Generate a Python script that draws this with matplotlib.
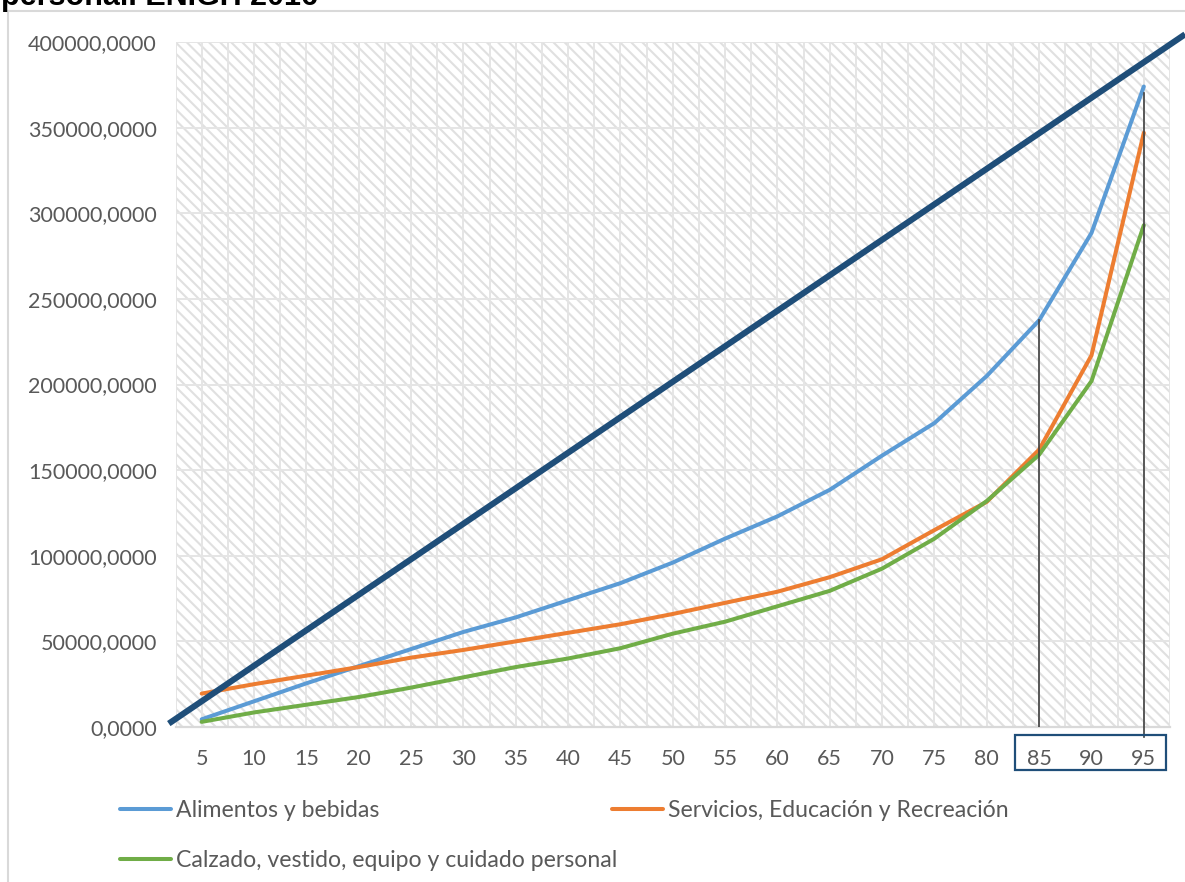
import matplotlib
matplotlib.use("Agg")
import matplotlib.pyplot as plt
from matplotlib.patches import Rectangle
from matplotlib.lines import Line2D
import matplotlib.transforms as mtransforms

# ---- data ----
percentiles = [5, 10, 15, 20, 25, 30, 35, 40, 45, 50, 55, 60, 65, 70, 75, 80, 85, 90, 95]
alimentos = [4500, 15000, 25500, 35500, 45500, 55500, 64000, 74000, 84000, 96000,
             110000, 123000, 138500, 158500, 177500, 205000, 237500, 288500, 374000]
servicios = [19500, 25000, 30000, 35000, 40500, 45000, 50000, 55000, 60000, 66000,
             72500, 79000, 87500, 98000, 115000, 131500, 162000, 217000, 347000]
calzado = [3000, 8500, 13000, 17500, 23000, 29000, 35000, 40000, 46000, 54500,
           61500, 70500, 79500, 92500, 110000, 132000, 159000, 202000, 293000]
equality_x = [2.1, 98.7]
equality_y = [3000, 403500]
marker_x = [85, 95]
marker_top = [237500, 370000]
y_ticks = [0, 50000, 100000, 150000, 200000, 250000, 300000, 350000, 400000]
labels = ["Alimentos y bebidas", "Servicios, Educación y Recreación",
          "Calzado, vestido, equipo y cuidado personal"]
title_text = "personal. ENIGH 2016"

W, H = 1185, 882
plt.rcParams["hatch.linewidth"] = 1.5
fig = plt.figure(figsize=(W / 100, H / 100), dpi=100)
fig.patch.set_facecolor("white")
FONT = ["Lato", "DejaVu Sans"]
TXT = "#595959"
FS = 15.5
LFS = 16.6

left, right, top, bottom = 175.5, 1170, 42, 727
ax = fig.add_axes([left / W, 1 - bottom / H, (right - left) / W, (bottom - top) / H])
ax.set_facecolor("white")
ax.set_xlim(2.5, 97.5)
ax.set_ylim(0, 400000)

# hatched background
bg = Rectangle((0, 0), 1, 1, transform=ax.transAxes, facecolor="white",
               edgecolor="#E0E0E0", hatch="\\\\\\", lw=0, zorder=0)
ax.add_patch(bg)

# grid
for gx in [2.5 + 2.5 * i for i in range(39)]:
    ax.axvline(gx, color="#E5E5E5", lw=1.4, zorder=1)
for gy in y_ticks[1:]:
    ax.axhline(gy, color="#E5E5E5", lw=1.4, zorder=1)

for s in ["top", "right", "left"]:
    ax.spines[s].set_visible(False)
ax.spines["bottom"].set_color("#D9D9D9")
ax.spines["bottom"].set_linewidth(1.6)

ax.set_xticks(percentiles)
ax.set_xticklabels([str(p) for p in percentiles], fontsize=FS, color=TXT, family=FONT)
ax.set_yticks(y_ticks)
ax.set_yticklabels([f"{v},0000" for v in y_ticks], fontsize=FS, color=TXT, family=FONT)
ax.tick_params(axis="both", length=0)
ax.tick_params(axis="x", pad=16)
ax.tick_params(axis="y", pad=13.5)

# series
lw = 2.9
l1, = ax.plot(percentiles, alimentos, color="#5B9BD5", lw=lw, zorder=4, label=labels[0],
              solid_capstyle="round")
l2, = ax.plot(percentiles, servicios, color="#ED7D31", lw=lw, zorder=4, label=labels[1],
              solid_capstyle="round")
l3, = ax.plot(percentiles, calzado, color="#70AD47", lw=lw, zorder=4, label=labels[2],
              solid_capstyle="round")

# equality line
ax.plot(equality_x, equality_y, color="#1F4E79", lw=4.4, zorder=5, clip_on=False)

# vertical marker lines
ax.plot([marker_x[0], marker_x[0]], [0, marker_top[0]], color="#404040", lw=1.2, zorder=6)
ax.plot([marker_x[1], marker_x[1]], [-6000, marker_top[1]], color="#404040", lw=1.2,
        zorder=6, clip_on=False)

# box around the last labels
trans = mtransforms.blended_transform_factory(ax.transData, fig.transFigure)
box = Rectangle((82.7, 1 - 770 / H), 97.1 - 82.7, (770 - 735) / H, transform=trans,
                fill=False, edgecolor="#1F4E79", lw=1.6, clip_on=False, zorder=7)
fig.add_artist(box)

# legend (Excel-style grid: two slots in first row, one in second)
common = dict(loc="upper left", bbox_transform=fig.transFigure, frameon=False,
              borderpad=0, borderaxespad=0, handlelength=2.2, handletextpad=0.25,
              labelspacing=1.25, prop={"family": FONT, "size": LFS})
leg1 = fig.legend(handles=[l1, l3], labels=[labels[0], labels[2]],
                  bbox_to_anchor=(120 / W, 1 - 800 / H), **common)
leg2 = fig.legend(handles=[l2], labels=[labels[1]],
                  bbox_to_anchor=(612 / W, 1 - 800 / H), **common)
for lg in (leg1, leg2):
    for t in lg.get_texts():
        t.set_color(TXT)

# frame of the chart area
fig.add_artist(Line2D([8 / W, 1], [1 - 11 / H, 1 - 11 / H], color="#D9D9D9", lw=1.5,
                      transform=fig.transFigure))
fig.add_artist(Line2D([8 / W, 8 / W], [1 - 11 / H, 0], color="#D9D9D9", lw=1.5,
                      transform=fig.transFigure))

# title (cut off at top)
fig.text(1 / W, 1 - 5 / H, title_text, fontsize=22, fontweight="bold",
         family=["Liberation Sans", "DejaVu Sans"], color="black", va="baseline", ha="left")

fig.savefig("out.png", dpi=100)
